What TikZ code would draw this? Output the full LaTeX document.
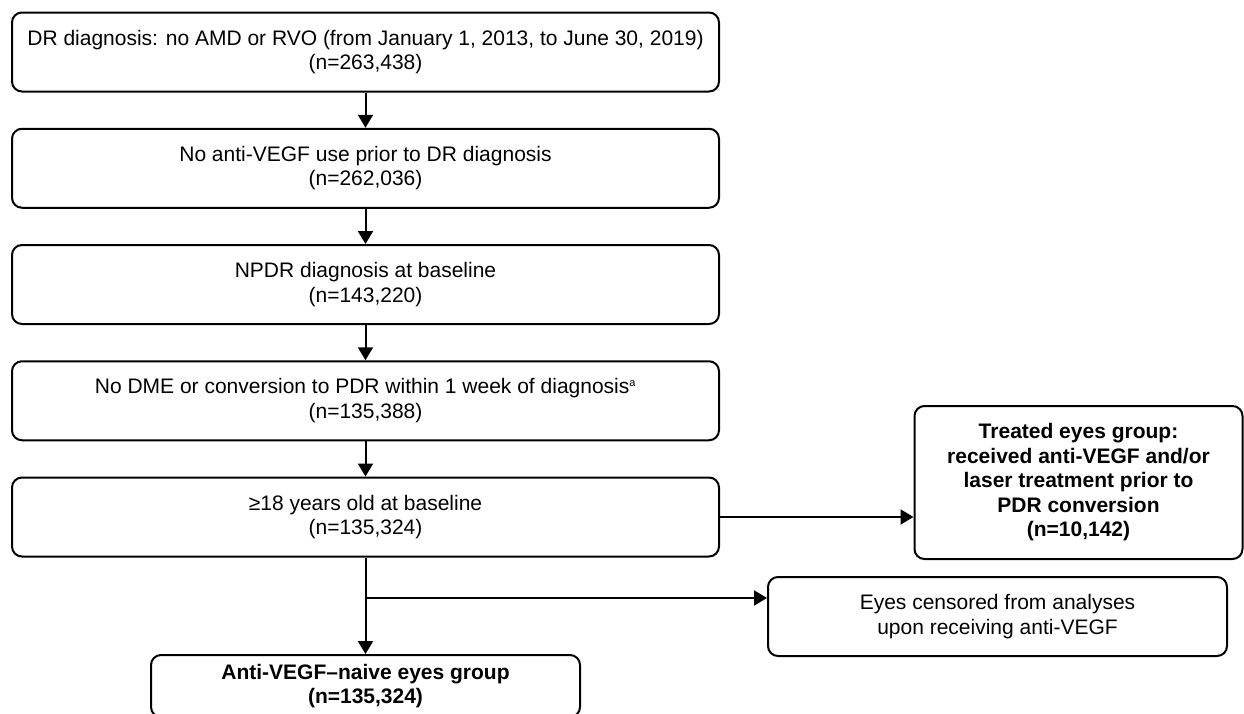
\documentclass[tikz,border=0pt]{standalone}
\usepackage{fontspec}
\setmainfont{Liberation Sans}
\usetikzlibrary{arrows.meta}
\begin{document}
\begin{tikzpicture}[x=1pt,y=-1pt,
  box/.style={draw, line width=2pt, rounded corners=10pt, align=center,
    font=\fontsize{21}{24.5}\selectfont, inner sep=0pt},
  boldbox/.style={box, font=\fontsize{21}{24.5}\selectfont\bfseries},
  mainbox/.style={box, minimum width=707pt, minimum height=79pt},
  arr/.style={line width=2pt, -{Triangle[length=13pt,width=15pt]}}]
\useasboundingbox (0,0) rectangle (1244,713);

\node[mainbox] (b1) at (365.5,52) {DR diagnosis: no AMD or RVO (from January 1, 2013, to June 30, 2019)\\(n=263,438)};
\node[mainbox] (b2) at (365.5,168.25) {No anti-VEGF use prior to DR diagnosis\\(n=262,036)};
\node[mainbox] (b3) at (365.5,284.5) {NPDR diagnosis at baseline\\(n=143,220)};
\node[mainbox] (b4) at (365.5,400.75) {No DME or conversion to PDR within 1 week of diagnosis\textsuperscript{\fontsize{11}{12}\selectfont a}\\(n=135,388)};
\node[mainbox] (b5) at (365.5,517) {≥18 years old at baseline\\(n=135,324)};

\node[boldbox, minimum width=328pt, minimum height=153pt] (treated) at (1078.5,482.5)
  {Treated eyes group:\\received anti-VEGF and/or\\laser treatment prior to\\PDR conversion\\(n=10,142)};
\node[box, minimum width=459pt, minimum height=79pt] (cens) at (997.5,616.5)
  {Eyes censored from analyses\\upon receiving anti-VEGF};
\node[boldbox, minimum width=429pt, minimum height=62pt, anchor=north] (naive) at (365.5,654)
  {Anti-VEGF\textendash naive eyes group\\(n=135,324)};

\foreach \a/\b in {b1/b2,b2/b3,b3/b4,b4/b5}
  \draw[arr] (\a) -- (\b);
\draw[arr] (b5) -- (naive);
\coordinate (br) at (365.5,598);
\draw[arr] (br) -- (br -| cens.west);
\draw[arr] (b5.east) -- (b5.east -| treated.west);
\end{tikzpicture}
\end{document}
